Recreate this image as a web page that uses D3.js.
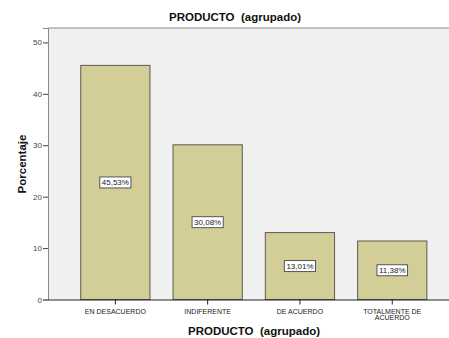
<!DOCTYPE html>
<html><head><meta charset="utf-8">
<script src="https://cdn.jsdelivr.net/npm/d3@7"></script>
<style>body{margin:0;background:#fff}svg{display:block;font-family:"Liberation Sans",Arial,sans-serif}text{white-space:pre}</style>
</head><body><svg id="c" width="449" height="338"></svg>
<script>
const categories = ["EN DESACUERDO", "INDIFERENTE", "DE ACUERDO", "TOTALMENTE DE ACUERDO"];
const categoryLines = [["EN DESACUERDO"], ["INDIFERENTE"], ["DE ACUERDO"], ["TOTALMENTE DE", "ACUERDO"]];
const values = [45.53, 30.08, 13.01, 11.38];
const valueLabels = ["45,53%", "30,08%", "13,01%", "11,38%"];
const yTicks = [0, 10, 20, 30, 40, 50];
const title = "PRODUCTO  (agrupado)";
const xTitle = "PRODUCTO  (agrupado)";
const yTitle = "Porcentaje";

const svg = d3.select("#c");
const plotL = 48, plotT = 28, plotB = 299.5, plotR = 449;
const x = d3.scaleBand().domain(categories).range([69.2, 438.4]).paddingInner(0.25).paddingOuter(0.125);
const y = d3.scaleLinear().domain([0, 52.8]).range([plotB, plotT]);

svg.append("rect").attr("x", plotL).attr("y", plotT).attr("width", plotR - plotL).attr("height", plotB - plotT).attr("fill", "#f0f0f0");
svg.append("line").attr("x1", plotL).attr("x2", plotR).attr("y1", plotT).attr("y2", plotT).attr("stroke", "#8a8a8a").attr("stroke-width", 1);

svg.append("g").selectAll("rect").data(values).join("rect")
  .attr("x", (d, i) => x(categories[i]))
  .attr("y", d => y(d))
  .attr("width", x.bandwidth())
  .attr("height", d => plotB - y(d))
  .attr("fill", "#d3ce97").attr("stroke", "#5a5a50").attr("stroke-width", 1);

// y axis
const ya = svg.append("g").attr("transform", `translate(${plotL},0)`)
  .call(d3.axisLeft(y).tickValues(yTicks).tickSize(5).tickPadding(1));
ya.select(".domain").attr("stroke", "#8a8a8a");
ya.selectAll(".tick line").attr("stroke", "#444");
ya.selectAll("text").attr("font-size", 8).attr("fill", "#444").attr("font-family", "Liberation Sans, Arial, sans-serif");

// x axis
const xa = svg.append("g").attr("transform", `translate(0,${plotB})`)
  .call(d3.axisBottom(x).tickSize(5).tickFormat(""));
xa.select(".domain").attr("d", `M${plotL},0.5H${plotR}`).attr("stroke", "#222");
xa.selectAll(".tick line").attr("stroke", "#222");
xa.selectAll(".tick").each(function(d, i) {
  const t = d3.select(this).append("text").attr("fill", "#222").attr("font-size", 7).attr("text-anchor", "middle")
    .attr("font-family", "Liberation Sans, Arial, sans-serif");
  categoryLines[i].forEach((ln, j) => t.append("tspan").attr("x", 0).attr("y", 14 + j * 6.5).text(ln));
});

// value labels
const lg = svg.append("g");
values.forEach((v, i) => {
  const cx = x(categories[i]) + x.bandwidth() / 2;
  const cy = (y(v) + plotB) / 2;
  const g = lg.append("g").attr("transform", `translate(${cx},${cy})`);
  const t = g.append("text").attr("font-size", 8).attr("text-anchor", "middle").attr("dy", "0.35em").attr("fill", "#222").text(valueLabels[i]);
  const w = t.node().getComputedTextLength() + 4;
  g.insert("rect", "text").attr("x", -w / 2).attr("y", -5.5).attr("width", w).attr("height", 11)
    .attr("fill", "#fff").attr("stroke", "#555").attr("stroke-width", 1);
});

svg.append("text").attr("x", 235).attr("y", 21).attr("text-anchor", "middle").attr("font-size", 11.5).attr("font-weight", "bold").attr("fill", "#111").text(title);
svg.append("text").attr("x", 254).attr("y", 335).attr("text-anchor", "middle").attr("font-size", 11.5).attr("font-weight", "bold").attr("fill", "#111").text(xTitle);
svg.append("text").attr("transform", "translate(26,164) rotate(-90)").attr("text-anchor", "middle").attr("font-size", 11.5).attr("font-weight", "bold").attr("fill", "#111").text(yTitle);
</script></body></html>
